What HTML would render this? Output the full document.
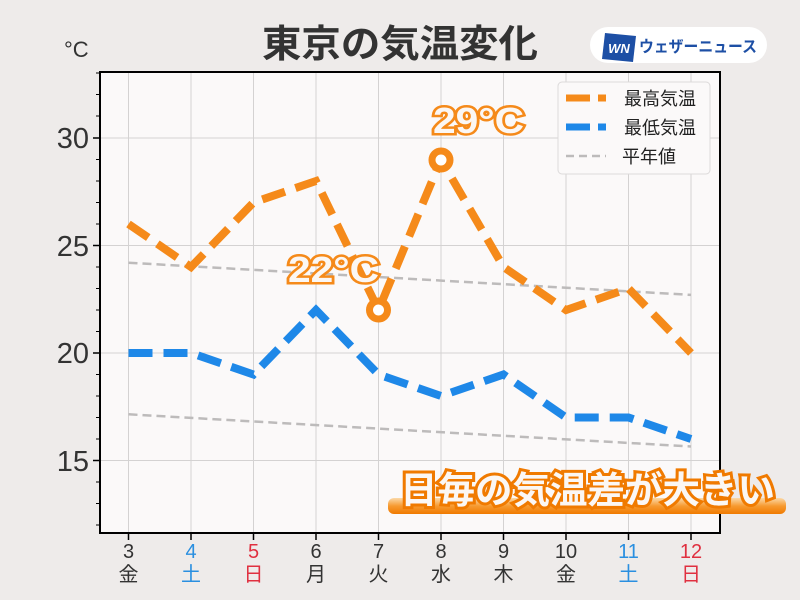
<!DOCTYPE html>
<html><head><meta charset="utf-8"><style>
body{margin:0;background:#eeebea;}
svg{display:block;font-family:"Liberation Sans","Noto Sans CJK JP",sans-serif;}
</style></head><body>
<svg width="800" height="600" viewBox="0 0 800 600">
<rect width="800" height="600" fill="#eeebea"/>
<text x="262" y="57" textLength="276" lengthAdjust="spacingAndGlyphs" font-size="38" font-weight="bold" fill="#333">東京の気温変化</text>
<rect x="590" y="27" width="177" height="36" rx="18" fill="#fff"/>
<polygon points="605,33 636,36 633,62 602,59" fill="#1d4fa5"/>
<text x="619" y="53" text-anchor="middle" font-size="13" font-weight="bold" font-style="italic" fill="#fff">WN</text>
<text x="639" y="52" textLength="118" lengthAdjust="spacingAndGlyphs" font-size="16" font-weight="bold" fill="#1d4fa5">ウェザーニュース</text>
<text x="64" y="57" font-size="22" fill="#333">°C</text>
<rect x="100" y="72" width="620" height="461" fill="#fbf9f9"/>
<g stroke="#d4d2d2" stroke-width="1">
<line x1="100" x2="720" y1="138" y2="138"/><line x1="100" x2="720" y1="245.5" y2="245.5"/><line x1="100" x2="720" y1="353" y2="353"/><line x1="100" x2="720" y1="460.5" y2="460.5"/>
<line x1="128.5" x2="128.5" y1="72" y2="533"/><line x1="191" x2="191" y1="72" y2="533"/><line x1="253.5" x2="253.5" y1="72" y2="533"/><line x1="316" x2="316" y1="72" y2="533"/><line x1="378.5" x2="378.5" y1="72" y2="533"/><line x1="441" x2="441" y1="72" y2="533"/><line x1="503.5" x2="503.5" y1="72" y2="533"/><line x1="566" x2="566" y1="72" y2="533"/><line x1="628.5" x2="628.5" y1="72" y2="533"/><line x1="691" x2="691" y1="72" y2="533"/>
</g>
<g stroke="#bdbbbb" stroke-width="2.5" stroke-dasharray="9 5" fill="none">
<line x1="128.5" y1="262.7" x2="691" y2="294.9"/>
<line x1="128.5" y1="414.3" x2="691" y2="446.5"/>
</g>
<polyline fill="none" stroke="#1e88e8" stroke-width="8" stroke-dasharray="24 11" points="128.5,353 191,353 253.5,374.5 316,310 378.5,374.5 441,396 503.5,374.5 566,417.5 628.5,417.5 691,439"/>
<polyline fill="none" stroke="#f58a1a" stroke-width="8" stroke-dasharray="24 11" points="128.5,224 191,267 253.5,202.5 316,181 378.5,310 441,159.5 503.5,267 566,310 628.5,288.5 691,353"/>
<circle cx="378.5" cy="310" r="9" fill="#fff" stroke="#f58a1a" stroke-width="7"/>
<circle cx="441" cy="160" r="9" fill="#fff" stroke="#f58a1a" stroke-width="7"/>
<g font-size="36" font-weight="bold" fill="#fbf7f4" stroke="#f58a1a" stroke-width="5" paint-order="stroke" lengthAdjust="spacingAndGlyphs">
<text x="433" y="133" textLength="91" lengthAdjust="spacingAndGlyphs">29°C</text>
<text x="288" y="282" textLength="91" lengthAdjust="spacingAndGlyphs">22°C</text>
</g>
<rect x="558" y="82" width="152" height="92" rx="4" fill="#fbf9f9" stroke="#dcdada"/>
<line x1="566" y1="98" x2="590" y2="98" stroke="#f58a1a" stroke-width="7"/><rect x="598" y="94.5" width="8" height="7" fill="#f58a1a"/>
<line x1="566" y1="127" x2="590" y2="127" stroke="#1e88e8" stroke-width="7"/><rect x="598" y="123.5" width="8" height="7" fill="#1e88e8"/>
<line x1="566" y1="156" x2="606" y2="156" stroke="#bdbbbb" stroke-width="2.5" stroke-dasharray="8 5"/>
<g font-size="18" fill="#222"><text x="624" y="105">最高気温</text><text x="624" y="134">最低気温</text><text x="622" y="163">平年値</text></g>
<rect x="100" y="72" width="620" height="461" fill="none" stroke="#000" stroke-width="2"/>
<g stroke="#000" stroke-width="1.5">
<line x1="93" x2="100" y1="138" y2="138"/><line x1="93" x2="100" y1="245.5" y2="245.5"/><line x1="93" x2="100" y1="353" y2="353"/><line x1="93" x2="100" y1="460.5" y2="460.5"/>
</g>
<g stroke="#000" stroke-width="1">
<line x1="96" x2="100" y1="73" y2="73"/><line x1="96" x2="100" y1="94.5" y2="94.5"/><line x1="96" x2="100" y1="116" y2="116"/><line x1="96" x2="100" y1="159.5" y2="159.5"/><line x1="96" x2="100" y1="181" y2="181"/><line x1="96" x2="100" y1="202.5" y2="202.5"/><line x1="96" x2="100" y1="224" y2="224"/><line x1="96" x2="100" y1="267" y2="267"/><line x1="96" x2="100" y1="288.5" y2="288.5"/><line x1="96" x2="100" y1="310" y2="310"/><line x1="96" x2="100" y1="331.5" y2="331.5"/><line x1="96" x2="100" y1="374.5" y2="374.5"/><line x1="96" x2="100" y1="396" y2="396"/><line x1="96" x2="100" y1="417.5" y2="417.5"/><line x1="96" x2="100" y1="439" y2="439"/><line x1="96" x2="100" y1="482" y2="482"/><line x1="96" x2="100" y1="503.5" y2="503.5"/><line x1="96" x2="100" y1="525" y2="525"/>
</g>
<g font-size="29" fill="#333" text-anchor="end">
<text x="89" y="148">30</text><text x="89" y="256">25</text><text x="89" y="363">20</text><text x="89" y="471">15</text>
</g>
<g stroke="#000" stroke-width="1.5">
<line x1="128.5" x2="128.5" y1="533" y2="540"/><line x1="191" x2="191" y1="533" y2="540"/><line x1="253.5" x2="253.5" y1="533" y2="540"/><line x1="316" x2="316" y1="533" y2="540"/><line x1="378.5" x2="378.5" y1="533" y2="540"/><line x1="441" x2="441" y1="533" y2="540"/><line x1="503.5" x2="503.5" y1="533" y2="540"/><line x1="566" x2="566" y1="533" y2="540"/><line x1="628.5" x2="628.5" y1="533" y2="540"/><line x1="691" x2="691" y1="533" y2="540"/>
</g>
<g font-size="20" text-anchor="middle" fill="#333">
<text x="128.5" y="558">3</text><text x="128.5" y="581">金</text>
<text x="191" y="558" fill="#2a8fe0">4</text><text x="191" y="581" fill="#2a8fe0">土</text>
<text x="253.5" y="558" fill="#e03040">5</text><text x="253.5" y="581" fill="#e03040">日</text>
<text x="316" y="558">6</text><text x="316" y="581">月</text>
<text x="378.5" y="558">7</text><text x="378.5" y="581">火</text>
<text x="441" y="558">8</text><text x="441" y="581">水</text>
<text x="503.5" y="558">9</text><text x="503.5" y="581">木</text>
<text x="566" y="558">10</text><text x="566" y="581">金</text>
<text x="628.5" y="558" fill="#2a8fe0">11</text><text x="628.5" y="581" fill="#2a8fe0">土</text>
<text x="691" y="558" fill="#e03040">12</text><text x="691" y="581" fill="#e03040">日</text>
</g>
<defs><linearGradient id="bg" x1="0" y1="0" x2="0" y2="1"><stop offset="0" stop-color="#fbd9a8"/><stop offset="0.5" stop-color="#f79a30"/><stop offset="1" stop-color="#f07a00"/></linearGradient></defs>
<rect x="388" y="498" width="398" height="16" rx="6" fill="url(#bg)"/>
<text x="400" y="503" textLength="375" lengthAdjust="spacingAndGlyphs" font-size="37" font-weight="bold" fill="#fbf7f4" stroke="#f07a00" stroke-width="6" paint-order="stroke">日毎の気温差が大きい</text>
</svg>
</body></html>
